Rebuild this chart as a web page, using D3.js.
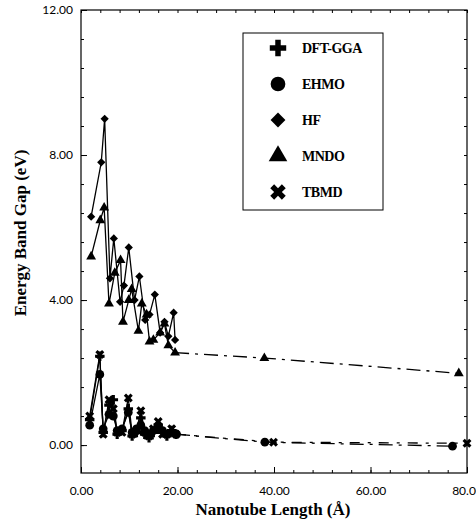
<!DOCTYPE html>
<html><head><meta charset="utf-8">
<script src="https://cdn.jsdelivr.net/npm/d3@7"></script>
<style>body{margin:0;background:#fff}</style>
</head><body>
<svg id="c" width="476" height="527"></svg>
<script>
// ---- data ----
const hfX   = [2.1, 4.2, 4.9, 6.0, 6.8, 8.1, 8.9, 9.9, 11.1, 12.1, 13.3, 14.2, 15.3, 16.4, 17.3, 18.1, 19.2, 19.5];
const hfY   = [6.3, 7.8, 9.0, 4.6, 5.7, 3.95, 4.4, 5.45, 4.0, 4.65, 3.45, 3.6, 4.15, 3.1, 3.4, 3.0, 3.65, 2.9];
const mndoX = [2.1, 4.0, 4.8, 5.8, 7.0, 8.2, 8.7, 9.9, 10.5, 11.9, 12.6, 13.6, 14.2, 15.0, 16.4, 17.3, 18.1, 19.5];
const mndoY = [5.2, 6.2, 6.55, 3.9, 4.75, 5.1, 3.4, 4.0, 4.3, 3.15, 3.9, 3.6, 2.85, 2.9, 3.1, 3.35, 2.75, 2.55];
const mndoFarX = [38.0, 78.3];
const mndoFarY = [2.4, 1.98];

const lowX  = [1.8, 3.9, 4.6, 5.8, 6.7, 7.5, 8.5, 9.8, 10.6, 11.5, 12.4, 13.2, 14.1, 15.0, 16.0, 16.9, 17.8, 18.8, 19.7];
const tbmdY = [0.8, 2.5, 0.3, 1.25, 1.0, 0.35, 0.35, 1.3, 0.3, 0.4, 0.95, 0.35, 0.25, 0.45, 0.65, 0.3, 0.3, 0.45, 0.3];
const dftY  = [0.7, 2.45, 0.35, 1.1, 1.25, 0.3, 0.4, 1.0, 0.25, 0.35, 0.75, 0.3, 0.2, 0.35, 0.55, 0.35, 0.25, 0.4, 0.3];
const ehmoY = [0.55, 1.95, 0.45, 0.85, 0.8, 0.4, 0.45, 0.9, 0.35, 0.45, 0.55, 0.4, 0.3, 0.4, 0.5, 0.4, 0.3, 0.35, 0.3];
const ehmoFarX = [38.1, 77.0];
const ehmoFarY = [0.08, -0.03];
const tbmdFarX = [39.9, 80.0];
const tbmdFarY = [0.08, 0.05];

const xTicks = [0, 20, 40, 60, 80];
const yTicks = [0, 4, 8, 12];
const legendNames = ["DFT-GGA", "EHMO", "HF", "MNDO", "TBMD"];

// ---- drawing ----
const svg = d3.select("#c");
const x = d3.scaleLinear().domain([0, 80]).range([81, 467]);
const y = d3.scaleLinear().domain([-0.77, 12]).range([473, 10]);

const tickFont = "Lato, 'DejaVu Sans', sans-serif";
const serif = "'Liberation Serif', 'DejaVu Serif', serif";

svg.append("rect").attr("x", x(0)).attr("y", y(12)).attr("width", x(80) - x(0)).attr("height", y(-0.77) - y(12))
  .attr("fill", "none").attr("stroke", "#000").attr("stroke-width", 1.2);

const minorX = d3.range(0, 80.01, 4);
const minorY = d3.range(0, 12.01, 0.8);

function styleAxis(g) {
  g.select(".domain").remove();
  g.selectAll("line").attr("stroke", "#000").attr("stroke-width", 1);
  g.selectAll("text").attr("font-family", tickFont).attr("font-size", 12).attr("fill", "#000");
}
svg.append("g").attr("transform", `translate(0,${y(-0.77)})`)
  .call(d3.axisBottom(x).tickValues(minorX).tickSizeInner(-3).tickSizeOuter(0).tickFormat(""))
  .call(styleAxis);
svg.append("g").attr("transform", `translate(0,${y(-0.77)})`)
  .call(d3.axisBottom(x).tickValues(xTicks).tickSizeInner(-6).tickSizeOuter(0).tickPadding(13).tickFormat(d3.format(".2f")))
  .call(styleAxis);
svg.append("g").attr("transform", `translate(0,${y(12)})`)
  .call(d3.axisTop(x).tickValues(minorX).tickSizeInner(-3).tickSizeOuter(0).tickFormat(""))
  .call(styleAxis);
svg.append("g").attr("transform", `translate(${x(0)},0)`)
  .call(d3.axisLeft(y).tickValues(minorY).tickSizeInner(-3).tickSizeOuter(0).tickFormat(""))
  .call(styleAxis);
svg.append("g").attr("transform", `translate(${x(0)},0)`)
  .call(d3.axisLeft(y).tickValues(yTicks).tickSizeInner(-6).tickSizeOuter(0).tickPadding(8).tickFormat(d3.format(".2f")))
  .call(styleAxis);
svg.append("g").attr("transform", `translate(${x(80)},0)`)
  .call(d3.axisRight(y).tickValues(minorY).tickSizeInner(-3).tickSizeOuter(0).tickFormat(""))
  .call(styleAxis);

svg.append("text").attr("x", 273).attr("y", 515).attr("text-anchor", "middle")
  .attr("font-family", serif).attr("font-weight", "bold").attr("font-size", 17).text("Nanotube Length (Å)");
svg.append("text").attr("transform", `translate(26,${233}) rotate(-90)`).attr("text-anchor", "middle")
  .attr("font-family", serif).attr("font-weight", "bold").attr("font-size", 17).text("Energy Band Gap (eV)");

const plot = svg.append("g");
const line = d3.line().x(d => x(d[0])).y(d => y(d[1]));
function zip(a, b) { return a.map((v, i) => [v, b[i]]); }

function drawLine(xs, ys, dash) {
  plot.append("path").datum(zip(xs, ys)).attr("d", line)
    .attr("fill", "none").attr("stroke", "#000").attr("stroke-width", 1.3)
    .attr("stroke-dasharray", dash || null);
}

const sym = {
  "DFT-GGA": d3.symbol().type(d3.symbolCross),
  "EHMO": d3.symbol().type(d3.symbolCircle),
  "HF": d3.symbol().type(d3.symbolSquare),
  "MNDO": d3.symbol().type(d3.symbolTriangle),
  "TBMD": d3.symbol().type(d3.symbolCross)
};
const rot = { "TBMD": 45, "HF": 45 };

function drawPts(name, xs, ys, size) {
  plot.selectAll(null).data(zip(xs, ys)).join("path")
    .attr("d", sym[name].size(size)())
    .attr("transform", d => `translate(${x(d[0])},${y(d[1])}) rotate(${rot[name] || 0})`)
    .attr("fill", "#000");
}

drawLine(hfX, hfY);
drawLine(mndoX, mndoY);
drawLine([mndoX[mndoX.length - 1]].concat(mndoFarX), [mndoY[mndoY.length - 1]].concat(mndoFarY), "14,6,3,6");
drawPts("HF", hfX, hfY, 34);
drawPts("MNDO", mndoX, mndoY, 42);
drawPts("MNDO", mndoFarX, mndoFarY, 42);

drawLine(lowX, tbmdY);
drawLine(lowX, dftY);
drawLine(lowX, ehmoY);
drawLine([lowX[lowX.length - 1]].concat(ehmoFarX), [ehmoY[ehmoY.length - 1]].concat(ehmoFarY), "14,6,3,6");
drawLine([lowX[lowX.length - 1]].concat(tbmdFarX), [tbmdY[tbmdY.length - 1]].concat(tbmdFarY), "10,8,3,8");
drawPts("EHMO", lowX, ehmoY, 60);
drawPts("DFT-GGA", lowX, dftY, 50);
drawPts("TBMD", lowX, tbmdY, 50);
drawPts("EHMO", ehmoFarX, ehmoFarY, 60);
drawPts("TBMD", tbmdFarX, tbmdFarY, 50);

const lg = svg.append("g");
lg.append("rect").attr("x", 243).attr("y", 33).attr("width", 140).attr("height", 177)
  .attr("fill", "#fff").attr("stroke", "#000").attr("stroke-width", 1);
legendNames.forEach((n, i) => {
  const cy = 48 + i * 36;
  const s = n === "EHMO" ? 170 : (n === "HF" ? 110 : 150);
  lg.append("path").attr("d", sym[n].size(s)())
    .attr("transform", `translate(278,${cy}) rotate(${rot[n] || 0})`).attr("fill", "#000");
  lg.append("text").attr("x", 302).attr("y", cy + 5).attr("font-family", serif).attr("font-weight", "bold")
    .attr("font-size", 14).attr("letter-spacing", -0.5).text(n);
});
</script>
</body></html>
